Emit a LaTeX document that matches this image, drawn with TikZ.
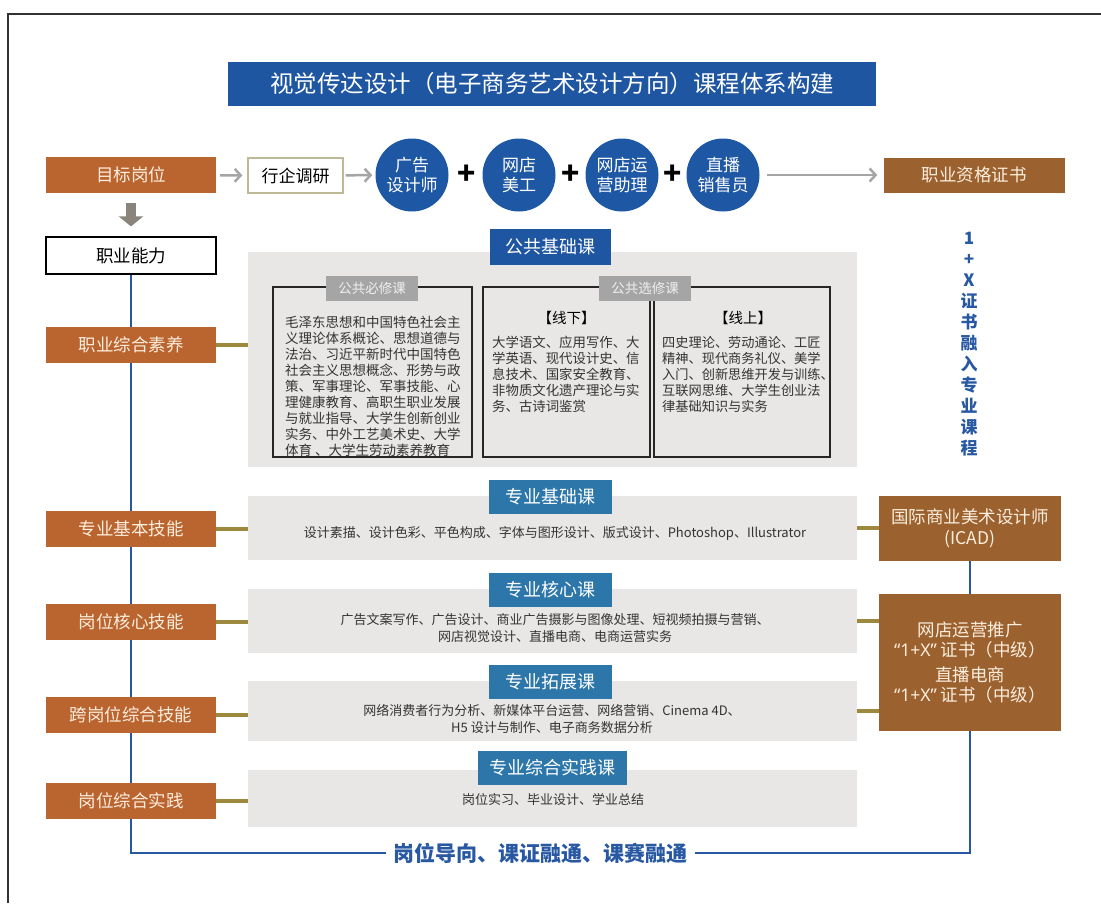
\documentclass[tikz,border=0pt]{standalone}
\usepackage{fontspec}
\setmainfont{Noto Sans CJK SC}
\newfontfamily\latinfont{Noto Sans}
\usetikzlibrary{arrows.meta}

\definecolor{titleblue}{RGB}{31,86,162}
\definecolor{circleblue}{RGB}{30,88,164}
\definecolor{tabblue}{RGB}{44,118,170}
\definecolor{skillorange}{RGB}{186,101,48}
\definecolor{certbrown}{RGB}{155,97,46}
\definecolor{panelgray}{RGB}{232,231,229}
\definecolor{tabgray}{RGB}{165,165,165}
\definecolor{linkolive}{RGB}{156,137,62}
\definecolor{lineblue}{RGB}{40,88,162}
\definecolor{arrowgray}{RGB}{165,165,165}
\definecolor{downgray}{RGB}{138,132,124}
\definecolor{surveyborder}{RGB}{190,185,150}
\definecolor{boxtext}{RGB}{252,238,222}

\begin{document}
\begin{tikzpicture}[x=1pt, y=-1pt,
  skillbox/.style={fill=skillorange, text=boxtext, minimum width=170pt, minimum height=36pt, font=\fontsize{17.5}{21}\selectfont},
  certbox/.style={fill=certbrown, text=boxtext, minimum width=182pt, align=center, font=\fontsize{17.5}{21}\selectfont},
  jobcircle/.style={circle, fill=circleblue, text=white, minimum size=73pt, inner sep=0pt, align=center, font=\fontsize{17}{20}\selectfont},
  panel/.style={fill=panelgray, minimum width=609pt},
  coursetab/.style={fill=tabblue, text=white, minimum height=34pt, font=\fontsize{18}{20}\selectfont},
  coursetext/.style={align=center, text=black!80, font=\fontsize{13}{17}\selectfont},
  listbox/.style={draw=black!85, line width=1.2pt, minimum height=170pt},
  greytab/.style={fill=tabgray, text=black!6, minimum width=92pt, minimum height=25pt, font=\fontsize{13.5}{15}\selectfont},
  listtext/.style={align=left, inner sep=0pt, anchor=north west, text=black!80},
  greyarrow/.style={draw=arrowgray, line width=2.5pt, -{Straight Barb[length=6pt, width=13pt]}},
  olivelink/.style={draw=linkolive, line width=4pt},
  blueline/.style={draw=lineblue, line width=2pt}
]
  \useasboundingbox (0, 0) rectangle (1101, 903);
  \draw[line width=1.2pt, black!80] (8, 903) -- (8, 14) -- (1101, 14);

  \node[fill=titleblue, text=white, minimum width=648pt, minimum height=44pt, font=\fontsize{23.5}{26}\selectfont] (title) at (552, 84) {视觉传达设计（电子商务艺术设计方向）课程体系构建};

  \node[skillbox] (goal) at (131, 175) {目标岗位};
  \node[draw=surveyborder, line width=1.2pt, fill=white, minimum width=95pt, minimum height=35pt, font=\fontsize{17}{20}\selectfont] (survey) at (295.5, 175.5) {行企调研};
  \node[jobcircle] (adesigner) at (412, 175) {广告\\设计师};
  \node[jobcircle] (artist) at (519, 175) {网店\\美工};
  \node[jobcircle] (operator) at (622, 175) {网店运\\营助理};
  \node[jobcircle] (seller) at (723, 175) {直播\\销售员};
  \node[font=\fontsize{30}{30}\selectfont\bfseries] (plusA) at (467, 175) {+};
  \node[font=\fontsize{30}{30}\selectfont\bfseries] (plusB) at (570.5, 175) {+};
  \node[font=\fontsize{30}{30}\selectfont\bfseries] (plusC) at (672.5, 175) {+};
  \node[certbox, minimum width=181pt, minimum height=35pt] (cert) at (974, 175) {职业资格证书};

  \draw[greyarrow, shorten <=4pt, shorten >=5pt] (goal) -- (survey);
  \draw[greyarrow, shorten <=2pt, shorten >=3pt] (survey) -- (adesigner);
  \draw[greyarrow, shorten <=7pt, shorten >=6pt] (seller) -- (cert);

  \node[draw=black, line width=1.2pt, fill=white, minimum width=170pt, minimum height=37pt, font=\fontsize{17.5}{21}\selectfont] (ability) at (131, 255.5) {职业能力};
  \draw[draw=downgray, line width=10pt, -{Triangle[length=10pt, width=24pt]}, shorten <=10pt, shorten >=10pt] (goal) -- (ability);

  \node[text=lineblue, inner sep=7pt, font=\fontsize{21}{24}\selectfont\bfseries] (motto) at (540.5, 853) {岗位导向、课证融通、课赛融通};
  \node[text=lineblue, align=center, font=\fontsize{17}{21}\selectfont\bfseries] (xtext) at (969, 344) {1\\+\\X\\证\\书\\融\\入\\专\\业\\课\\程};

  \node[certbox, minimum height=65pt] (icad) at (970, 528.5) {国际商业美术设计师\\(ICAD)};
  \node[certbox, minimum height=137pt, font=\fontsize{17.5}{20.5}\selectfont] (xcert) at (970, 662.5) {网店运营推广\\{\latinfont “1+X”}\ 证书（中级）\\[4pt]直播电商\\{\latinfont “1+X”}\ 证书（中级）};

  \draw[blueline] (ability.south) -- (ability.south |- motto.west) -- (motto.west);
  \draw[blueline] (motto.east) -- (motto.east -| xcert.south) -- (xcert.south);
  \draw[blueline] (icad) -- (xcert);

  \node[skillbox] (quality) at (131, 345) {职业综合素养};
  \node[skillbox] (basic) at (131, 529) {专业基本技能};
  \node[skillbox] (core) at (131, 622) {岗位核心技能};
  \node[skillbox] (cross) at (131, 715) {跨岗位综合技能};
  \node[skillbox] (practice) at (131, 800.5) {岗位综合实践};

  \node[panel, minimum height=215pt] (pubpanel) at (552.5, 359.5) {};
  \node[fill=titleblue, text=white, minimum width=121pt, minimum height=36pt, font=\fontsize{18}{20}\selectfont] (pubtab) at (550.5, 247) {公共基础课};
  \node[listbox, minimum width=199pt] (reqbox) at (372.5, 372) {};
  \node[listbox, minimum width=167pt] (offbox) at (566.5, 372) {};
  \node[listbox, minimum width=176pt] (onbox) at (742, 372) {};
  \node[greytab] (reqtab) at (372, 288) {公共必修课};
  \node[greytab] (electab) at (645, 288) {公共选修课};
  \node[listtext, font=\fontsize{13.5}{16}\selectfont] (reqtext) at (285, 316) {毛泽东思想和中国特色社会主\\义理论体系概论、思想道德与\\法治、习近平新时代中国特色\\社会主义思想概念、形势与政\\策、军事理论、军事技能、心\\理健康教育、高职生职业发展\\与就业指导、大学生创新创业\\实务、中外工艺美术史、大学\\体育 、大学生劳动素养教育};
  \node[font=\fontsize{14.5}{16}\selectfont] (offhead) at (566.5, 318) {【线下】};
  \node[listtext, font=\fontsize{13.4}{16}\selectfont] (offtext) at (492, 336) {大学语文、应用写作、大\\学英语、现代设计史、信\\息技术、国家安全教育、\\非物质文化遗产理论与实\\务、古诗词鉴赏};
  \node[font=\fontsize{14.5}{16}\selectfont] (onhead) at (743, 318) {【线上】};
  \node[listtext, font=\fontsize{13.2}{16}\selectfont] (ontext) at (662, 336) {四史理论、劳动通论、工匠\\精神、现代商务礼仪、美学\\入门、创新思维开发与训练、\\互联网思维、大学生创业法\\律基础知识与实务};

  \node[panel, minimum height=64pt] (basepanel) at (552.5, 528) {};
  \node[coursetab, minimum width=123pt] (basetab) at (550.5, 497) {专业基础课};
  \node[coursetext] (basetext) at (555, 533) {设计素描、设计色彩、平色构成、字体与图形设计、版式设计、Photoshop、Illustrator};
  \node[panel, minimum height=64pt] (corepanel) at (552.5, 621) {};
  \node[coursetab, minimum width=123pt] (coretab) at (550.5, 590) {专业核心课};
  \node[coursetext] (coretext) at (555, 628.5) {广告文案写作、广告设计、商业广告摄影与图像处理、短视频拍摄与营销、\\网店视觉设计、直播电商、电商运营实务};
  \node[panel, minimum height=60pt] (extpanel) at (552.5, 711) {};
  \node[coursetab, minimum width=123pt] (exttab) at (550.5, 681.5) {专业拓展课};
  \node[coursetext] (exttext) at (552, 718.5) {网络消费者行为分析、新媒体平台运营、网络营销、Cinema 4D、\\H5 设计与制作、电子商务数据分析};
  \node[panel, minimum height=57pt] (pracpanel) at (552.5, 798.5) {};
  \node[coursetab, minimum width=149pt] (practab) at (552.5, 767.5) {专业综合实践课};
  \node[coursetext] (practext) at (553, 800) {岗位实习、毕业设计、学业总结};

  \draw[olivelink] (quality.east) -- (quality.east -| pubpanel.west);
  \draw[olivelink] (basic.east) -- (basic.east -| basepanel.west);
  \draw[olivelink] (core.east) -- (core.east -| corepanel.west);
  \draw[olivelink] (cross.east) -- (cross.east -| extpanel.west);
  \draw[olivelink] (practice.east) -- (practice.east -| pracpanel.west);
  \draw[olivelink] (basepanel.east) -- (basepanel.east -| icad.west);
  \draw[olivelink] (corepanel.east) -- (corepanel.east -| xcert.west);
  \draw[olivelink] (extpanel.east) -- (extpanel.east -| xcert.west);
\end{tikzpicture}
\end{document}
